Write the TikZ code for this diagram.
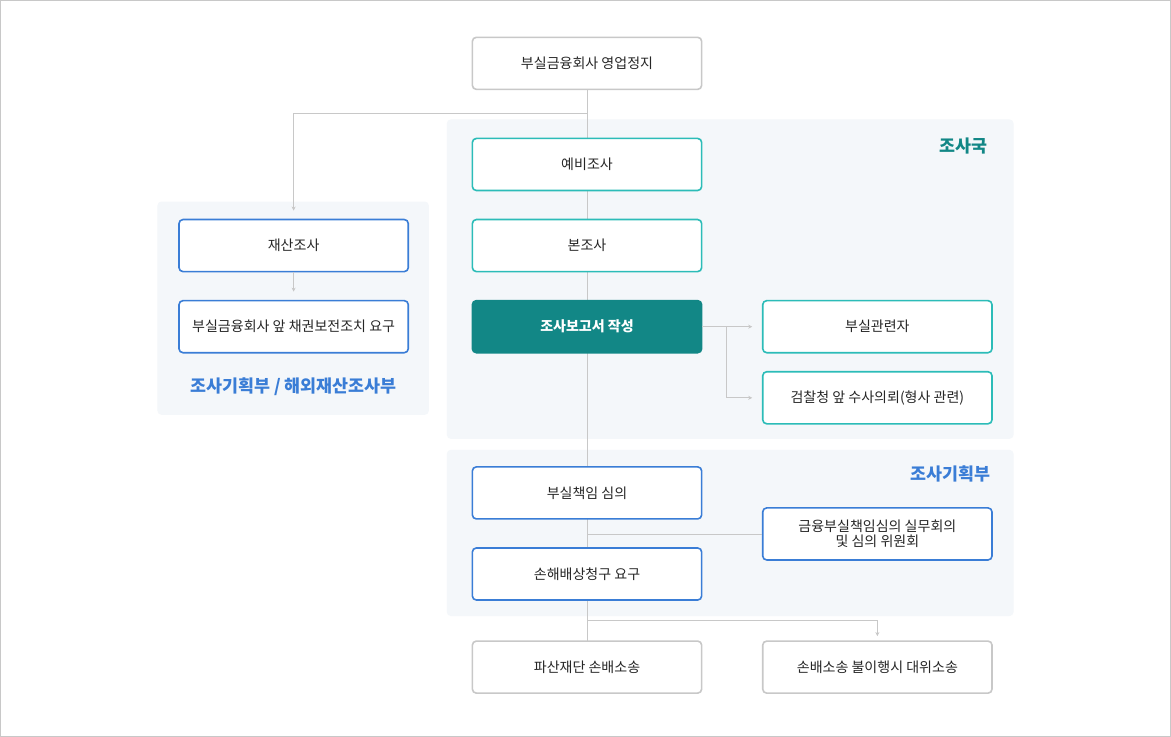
\documentclass[tikz,border=0pt]{standalone}
\usepackage{fontspec}
\setmainfont{Noto Sans CJK KR}
\usetikzlibrary{positioning,arrows.meta}
\definecolor{teal1}{HTML}{2CBCB8}
\definecolor{tealdark}{HTML}{128786}
\definecolor{blue1}{HTML}{3A7DD6}
\definecolor{gray1}{HTML}{C8C8C8}
\definecolor{panel}{HTML}{F4F7FA}
\begin{document}
\begin{tikzpicture}[x=0.75pt,y=-0.75pt,>={Stealth[length=3pt,width=3pt]},font=\fontsize{10.5}{13}\selectfont]

    \tikzstyle{box}=[draw, rounded corners=3pt, line width=1.2pt, minimum width=171.75pt, minimum height=39pt, fill=white, align=center, text=black!85]
    \tikzstyle{gbox}=[box, draw=gray1]
    \tikzstyle{tbox}=[box, draw=teal1]
    \tikzstyle{bbox}=[box, draw=blue1]
    \tikzstyle{pnl}=[fill=panel, rounded corners=3pt]
    \tikzstyle{ln}=[draw=gray1, line width=0.6pt]

    \draw[gray1, fill=white] (1,1) rectangle (1170,736);

    % panels
    \path[pnl] (447,120) rectangle (1013,439);
    \path[pnl] (158,202) rectangle (429,415);
    \path[pnl] (447,450) rectangle (1013,616);
    \node[text=tealdark, font=\fontsize{13}{15}\selectfont\bfseries] (lbInv) at (963,147) {조사국};
    \node[text=blue1, font=\fontsize{13}{15}\selectfont\bfseries] (lbPlan) at (950,474) {조사기획부};
    \node[text=blue1, font=\fontsize{13}{15}\selectfont\bfseries] (lbLeft) at (294,387) {조사기획부 / 해외재산조사부};

    % spine
    \coordinate (top) at (587,64);
    \coordinate (bot) at (587,667);
    \draw[ln] (top) -- (bot);

    \node[gbox] (stop) at (587,64) {부실금융회사 영업정지};
    \node[tbox] (pre) at (587,165) {예비조사};
    \node[tbox] (main) at (587,246) {본조사};
    \node[box, draw=tealdark, fill=tealdark, text=white, font=\fontsize{10.5}{13}\selectfont\bfseries] (report) at (587,327) {조사보고서 작성};
    \node[tbox] (rel) at (877,327) {부실관련자};
    \node[tbox] (pros) at (877,398) {검찰청 앞 수사의뢰(형사 관련)};
    \node[bbox] (asset) at (294,246) {재산조사};
    \node[bbox] (claim) at (294,327) {부실금융회사 앞 채권보전조치 요구};
    \node[bbox] (resp) at (587,493) {부실책임 심의};
    \node[bbox] (comm) at (877,534) {금융부실책임심의 실무회의\\[-2pt]및 심의 위원회};
    \node[bbox] (dmg) at (587,574) {손해배상청구 요구};
    \node[gbox] (bank) at (587,667) {파산재단 손배소송};
    \node[gbox] (sub) at (877,667) {손배소송 불이행시 대위소송};

    % connectors
    \coordinate (br) at (587,114);
    \coordinate (brL) at (294,114);
    \draw[ln, ->] (br) -- (brL) -- (294,211);
    \draw[ln, ->] (asset) -- (294,292);
    \coordinate (rk) at (726,327);
    \draw[ln, ->] (report.east) -- (752,327);
    \draw[ln, ->] (rk) |- (752,398);
    \draw[ln] (587,534) -- (comm.west);
    \coordinate (bb) at (587,620);
    \draw[ln, ->] (bb) -| (877,636);
\end{tikzpicture}
\end{document}
